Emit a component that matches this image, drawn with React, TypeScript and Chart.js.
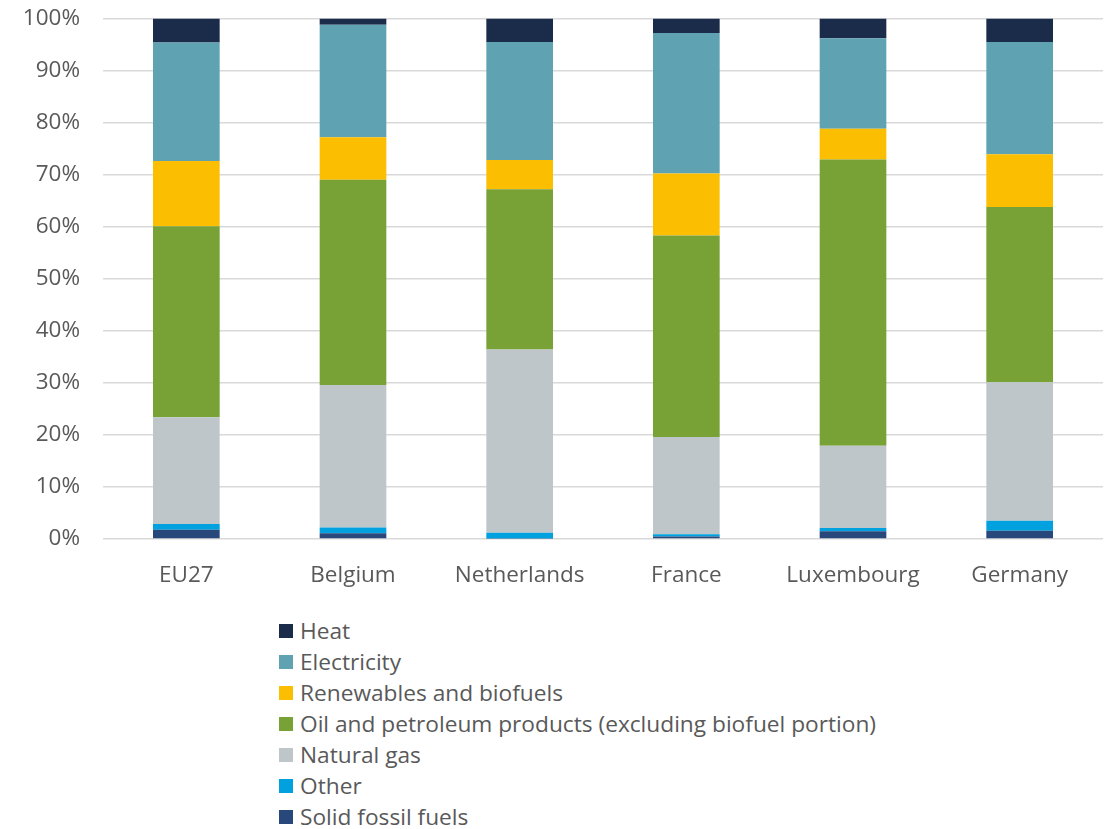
import React, { useEffect, useRef } from "react";
import { Chart, registerables } from "chart.js";

Chart.register(...registerables);

const categories = ["EU27", "Belgium", "Netherlands", "France", "Luxembourg", "Germany"];

const solidFossil = [1.8, 1.1, 0.1, 0.5, 1.5, 1.6];
const other = [1.1, 1.1, 1.1, 0.4, 0.6, 1.9];
const naturalGas = [20.5, 27.4, 35.2, 18.7, 15.8, 26.6];
const oilPetroleum = [36.7, 39.4, 30.8, 38.7, 55.0, 33.7];
const renewables = [12.5, 8.2, 5.6, 11.9, 5.9, 10.1];
const electricity = [22.8, 21.6, 22.7, 27.0, 17.4, 21.6];
const heat = [4.6, 1.2, 4.5, 2.8, 3.8, 4.5];

const yTicks = [0, 10, 20, 30, 40, 50, 60, 70, 80, 90, 100];

const FONT = "'Open Sans', 'Noto Sans', sans-serif";
const TEXT = "#595959";

const series = [
  { label: "Solid fossil fuels", data: solidFossil, color: "#28477B" },
  { label: "Other", data: other, color: "#00A1DE" },
  { label: "Natural gas", data: naturalGas, color: "#BFC6C9" },
  { label: "Oil and petroleum products (excluding biofuel portion)", data: oilPetroleum, color: "#78A136" },
  { label: "Renewables and biofuels", data: renewables, color: "#FBBE00" },
  { label: "Electricity", data: electricity, color: "#5FA2B2" },
  { label: "Heat", data: heat, color: "#1B2C4B" },
];

export default function App() {
  const ref = useRef<HTMLCanvasElement | null>(null);

  useEffect(() => {
    if (!ref.current) return;
    const chart = new Chart(ref.current, {
      type: "bar",
      data: {
        labels: categories,
        datasets: series.map((s) => ({
          label: s.label,
          data: s.data,
          backgroundColor: s.color,
          borderWidth: 0,
          barPercentage: 0.4,
          categoryPercentage: 1,
        })),
      },
      options: {
        animation: false,
        responsive: false,
        maintainAspectRatio: false,
        layout: { padding: { top: 2, right: 4, bottom: 0, left: 0 } },
        plugins: {
          legend: { display: false },
          tooltip: { enabled: false },
        },
        scales: {
          x: {
            stacked: true,
            grid: { display: false, drawTicks: false },
            border: { display: false },
            ticks: { color: TEXT, font: { family: FONT, size: 22.5 }, padding: 23 },
            afterFit: (scale: any) => {
              scale.height = 61;
            },
          },
          y: {
            stacked: true,
            min: 0,
            max: 100,
            afterBuildTicks: (scale: any) => {
              scale.ticks = yTicks.map((v) => ({ value: v }));
            },
            grid: { color: "#D9D9D9", lineWidth: 1.5, drawTicks: false },
            border: { display: false },
            ticks: {
              color: TEXT,
              font: { family: FONT, size: 22.5 },
              padding: 23,
              callback: (v: any) => v + "%",
            },
            afterFit: (scale: any) => {
              scale.width = 103;
            },
          },
        },
      },
    });
    return () => chart.destroy();
  }, []);

  const legendItems = [...series].reverse();

  return (
    <div style={{ position: "absolute", left: 0, top: 0, width: 1107, height: 829, background: "#fff", overflow: "hidden" }}>
      <canvas
        ref={ref}
        width={1107}
        height={618}
        style={{ display: "block", position: "absolute", left: 0, top: -18 }}
      />
      <div style={{ position: "absolute", left: 279, top: 615 }}>
        {legendItems.map((s) => (
          <div
            key={s.label}
            style={{
              display: "flex",
              alignItems: "center",
              height: 31,
              fontFamily: FONT,
              fontSize: 22.7,
              color: TEXT,
              whiteSpace: "nowrap",
            }}
          >
            <span style={{ display: "inline-block", width: 14, height: 14, background: s.color, marginRight: 7, flexShrink: 0 }} />
            <span>{s.label}</span>
          </div>
        ))}
      </div>
    </div>
  );
}
